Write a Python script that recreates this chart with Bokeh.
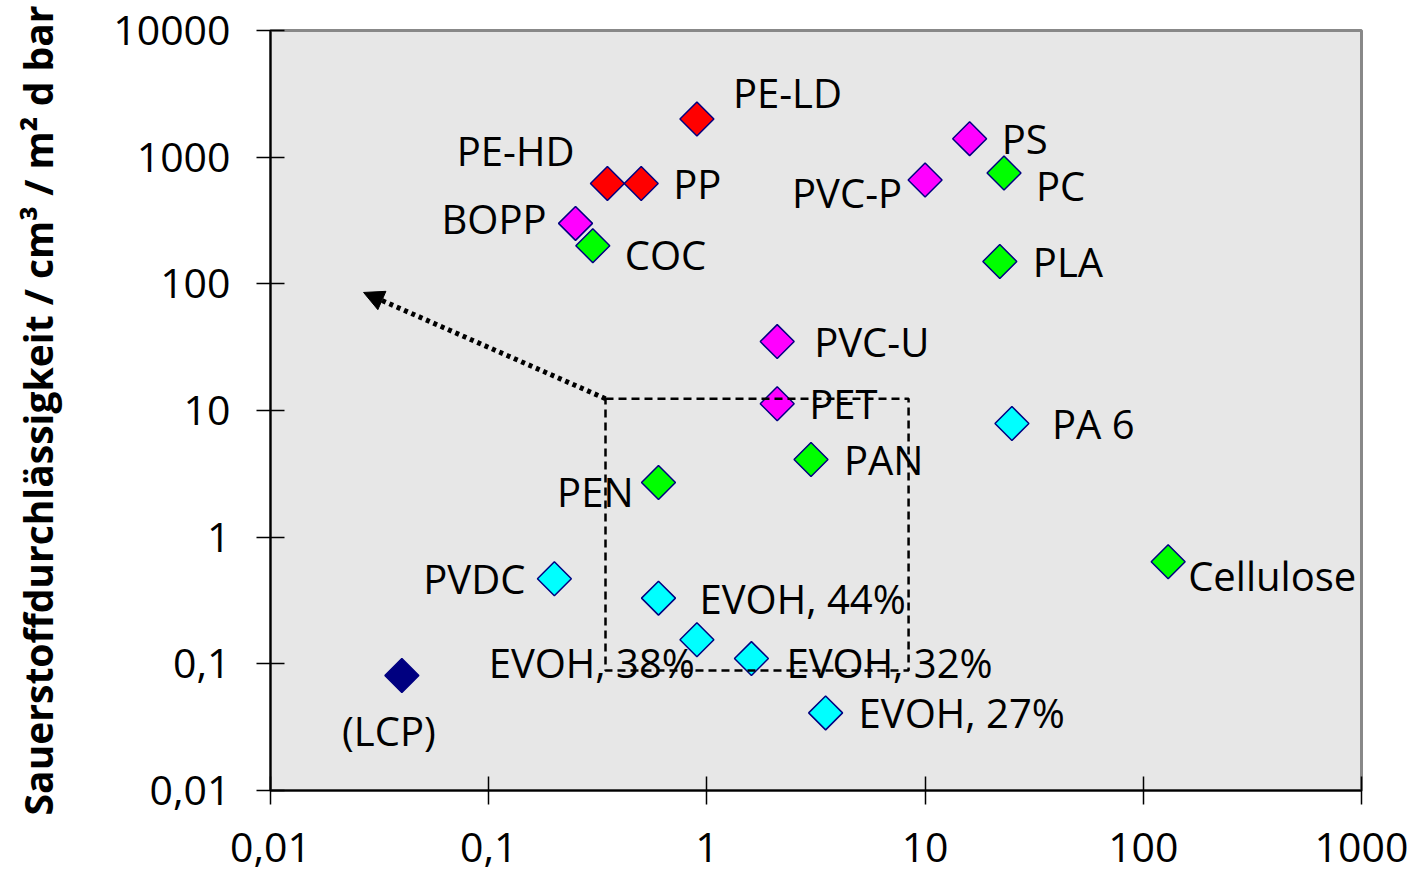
import math
from bokeh.plotting import figure
from bokeh.models import ColumnDataSource, Range1d, FixedTicker, Arrow, NormalHead
from bokeh.core.properties import value
from bokeh.embed import file_html
from bokeh.resources import INLINE

# ---------------- data ----------------
materials = ["PE-LD", "PE-HD", "PP", "BOPP", "COC", "PS", "PVC-P", "PC", "PLA",
             "PVC-U", "PET", "PAN", "PEN", "PA 6", "Cellulose", "PVDC",
             "EVOH, 44%", "EVOH, 38%", "EVOH, 32%", "EVOH, 27%", "LCP"]
labels = ["PE-LD", "PE-HD", "PP", "BOPP", "COC", "PS", "PVC-P", "PC", "PLA",
          "PVC-U", "PET", "PAN", "PEN", "PA 6", "Cellulose", "PVDC",
          "EVOH, 44%", "EVOH, 38%", "EVOH, 32%", "EVOH, 27%", "(LCP)"]
water_vapour = [0.9, 0.35, 0.5, 0.25, 0.3, 16, 10, 23, 22,
                2.1, 2.1, 3.0, 0.6, 25, 130, 0.2,
                0.6, 0.9, 1.6, 3.5, 0.04]
oxygen = [2000, 620, 620, 300, 200, 1400, 660, 750, 150,
          35, 11.3, 4.1, 2.7, 7.9, 0.64, 0.47,
          0.33, 0.155, 0.11, 0.041, 0.081]
groups = ["red", "red", "red", "magenta", "green", "magenta", "magenta", "green", "green",
          "magenta", "magenta", "green", "green", "cyan", "green", "cyan",
          "cyan", "cyan", "cyan", "cyan", "navy"]

# target region (dashed box) and arrow
box_x = [0.343, 8.4]
box_y = [0.0886, 12.4]
arrow_end = [0.0267, 85.5]

x_ticks = [0.01, 0.1, 1, 10, 100, 1000]
x_tick_labels = ["0,01", "0,1", "1", "10", "100", "1000"]
y_ticks = [0.01, 0.1, 1, 10, 100, 1000, 10000]
y_tick_labels = ["0,01", "0,1", "1", "10", "100", "1000", "10000"]

# ---------------- styling ----------------
group_colors = {"red": "#ff0000", "magenta": "#ff00ff", "green": "#00ff00",
                "cyan": "#00ffff", "navy": "#000080"}
# label placement (screen px offsets, alignment)
label_place = {
    "PE-LD": (36, -27, "left"), "PE-HD": (-33, -33, "right"), "PP": (32, 0, "left"),
    "BOPP": (-29, -5, "right"), "COC": (32, 9, "left"), "PS": (32, 0, "left"),
    "PVC-P": (-23, 12, "right"), "PC": (32, 13, "left"), "PLA": (33, 0, "left"),
    "PVC-U": (37, 0, "left"), "PET": (32, 0, "left"), "PAN": (33, 0, "left"),
    "PEN": (-25, 9, "right"), "PA 6": (40, 0, "left"), "Cellulose": (20, 14, "left"),
    "PVDC": (-29, 0, "right"), "EVOH, 44%": (41, 0, "left"), "EVOH, 38%": (-2, 23, "right"),
    "EVOH, 32%": (35, 4, "left"), "EVOH, 27%": (33, 0, "left"), "LCP": (-13, 55, "center"),
}

FONT = "Open Sans"

src = ColumnDataSource(dict(
    x=water_vapour, y=oxygen, name=materials, label=labels,
    color=[group_colors[g] for g in groups],
    xo=[label_place[m][0] for m in materials],
    yo=[label_place[m][1] for m in materials],
    align=[label_place[m][2] for m in materials],
))

p = figure(width=1415, height=876, x_axis_type="log", y_axis_type="log",
           x_range=Range1d(0.01, 1000), y_range=Range1d(0.01, 10000),
           output_backend="svg", toolbar_location=None,
           min_border_left=270, min_border_right=54, min_border_top=30, min_border_bottom=86)

p.background_fill_color = "#e7e7e7"
p.border_fill_color = "white"
p.outline_line_color = "#888888"
p.outline_line_width = 3
p.grid.visible = False

for ax, ticks, tl in ((p.xaxis[0], x_ticks, x_tick_labels), (p.yaxis[0], y_ticks, y_tick_labels)):
    ax.ticker = FixedTicker(ticks=ticks, minor_ticks=[])
    ax.major_label_overrides = {t: l for t, l in zip(ticks, tl)}
    ax.axis_line_color = "black"
    ax.axis_line_width = 2
    ax.major_tick_line_color = "black"
    ax.major_tick_line_width = 1.5
    ax.major_tick_in = 14
    ax.major_tick_out = 14
    ax.minor_tick_line_color = None
    ax.major_label_text_font = FONT
    ax.major_label_text_font_size = "41px"
    ax.major_label_text_color = "black"

p.xaxis[0].major_label_standoff = 28
p.yaxis[0].major_label_standoff = 26
p.yaxis[0].axis_label = "Sauerstoffdurchlässigkeit / cm³ / m² d bar"
p.yaxis[0].axis_label_text_font = FONT
p.yaxis[0].axis_label_text_font_style = "bold"
p.yaxis[0].axis_label_text_font_size = "39px"
p.yaxis[0].axis_label_text_color = "black"
p.yaxis[0].axis_label_standoff = 46

p.scatter("x", "y", source=src, marker="square", angle=math.pi / 4, size=24,
          fill_color="color", line_color="#000080", line_width=1.5)

p.text("x", "y", text="label", source=src, x_offset="xo", y_offset="yo",
       text_align="align", text_baseline="middle", text_font=value(FONT),
       text_font_size="40px", text_color="black")

p.quad(left=[box_x[0]], right=[box_x[1]], bottom=[box_y[0]], top=[box_y[1]],
       fill_color=None, line_color="black", line_width=2.5, line_dash="8 5")

p.add_layout(Arrow(end=NormalHead(size=20, fill_color="black", line_color="black", line_width=1),
                   x_start=box_x[0], y_start=box_y[1], x_end=arrow_end[0], y_end=arrow_end[1],
                   line_color="black", line_width=5, line_dash="4 4"))

open("out.html", "w").write(file_html(p, INLINE))
